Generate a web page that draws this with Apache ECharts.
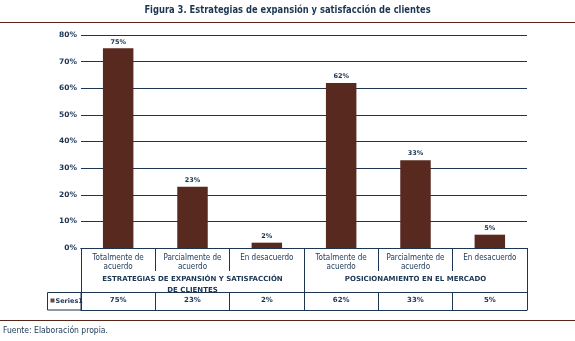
<!DOCTYPE html>
<html><head><meta charset="utf-8">
<script src="https://cdn.jsdelivr.net/npm/echarts@6/dist/echarts.min.js"></script>
<style>html,body{margin:0;padding:0;background:#fff}#c{width:575px;height:341px}</style>
</head><body><div id="c"></div>
<script>
const titleText = 'Figura 3. Estrategias de expansión y satisfacción de clientes';
const categories = ["Totalmente de\nacuerdo","Parcialmente de\nacuerdo","En desacuerdo","Totalmente de\nacuerdo","Parcialmente de\nacuerdo","En desacuerdo"];
const groups = ["ESTRATEGIAS DE EXPANSIÓN Y SATISFACCIÓN\nDE CLIENTES","POSICIONAMIENTO EN EL MERCADO"];
const series1 = [75, 23, 2, 62, 33, 5];
const yTicks = [0,10,20,30,40,50,60,70,80];
const seriesName = "Series1";

const NAVY = '#1b3553', BROWN = '#58291f';
const narrow = "'Liberation Sans Narrow','DejaVu Sans Condensed',sans-serif";
const chart = echarts.init(document.getElementById('c'), null, {renderer:'canvas'});
const lineStyle = {color: NAVY, width: 1};
const tick = (len) => ({show: true, inside: false, length: len, interval: 0, alignWithLabel: false, lineStyle});
chart.setOption({
  animation: false,
  grid: {left: 81, right: 48, top: 35, bottom: 93},
  yAxis: {type: 'value', min: yTicks[0], max: yTicks[yTicks.length-1], interval: 10,
    axisLine: {show: false}, axisTick: {show: false},
    axisLabel: {formatter: '{value}%', color: NAVY, fontSize: 7.5, fontWeight: 'bold', fontFamily: 'DejaVu Sans', margin: 4},
    splitLine: {lineStyle: {color: NAVY, width: 1}}},
  xAxis: [
    {type: 'category', data: categories, position: 'bottom', boundaryGap: true,
      axisLine: {show: true, lineStyle}, axisTick: tick(23),
      axisLabel: {interval: 0, color: NAVY, fontSize: 8, fontFamily: narrow, lineHeight: 9, margin: 5}},
    {type: 'category', data: groups, position: 'bottom', offset: 0, boundaryGap: true,
      axisLine: {show: true, lineStyle}, axisTick: tick(44),
      axisLabel: {interval: 0, color: NAVY, fontSize: 7, fontWeight: 'bold', fontFamily: 'DejaVu Sans', lineHeight: 11, margin: 26}},
    {type: 'category', data: series1.map(v => v + '%'), position: 'bottom', offset: 44, boundaryGap: true,
      axisLine: {show: true, lineStyle}, axisTick: tick(18),
      axisLabel: {interval: 0, color: NAVY, fontSize: 7, fontWeight: 'bold', fontFamily: 'DejaVu Sans', margin: 5}},
    {type: 'category', data: categories, position: 'bottom', offset: 62,
      axisLine: {show: true, lineStyle}, axisTick: {show: false}, axisLabel: {show: false}}
  ],
  series: [{name: seriesName, type: 'bar', data: series1, xAxisIndex: 0, barWidth: '41%',
    itemStyle: {color: BROWN},
    label: {show: true, position: 'top', formatter: '{c}%', color: NAVY, fontSize: 6.5, fontWeight: 'bold', fontFamily: 'DejaVu Sans', distance: 3}}],
  graphic: [
    {type: 'text', x: 287.5, y: 10, scaleX: 0.76, style: {text: titleText, fill: NAVY, font: 'bold 11px DejaVu Sans', textAlign: 'center', verticalAlign: 'middle'}},
    {type: 'line', shape: {x1: 0, y1: 22.5, x2: 575, y2: 22.5}, style: {stroke: '#5a2417', lineWidth: 1.2}},
    {type: 'line', shape: {x1: 0, y1: 320.5, x2: 575, y2: 320.5}, style: {stroke: '#5a2417', lineWidth: 1.2}},
    {type: 'rect', shape: {x: 47.5, y: 292.5, width: 33.5, height: 17.5}, style: {fill: 'none', stroke: NAVY, lineWidth: 1}},
    {type: 'rect', shape: {x: 50.5, y: 298.5, width: 4, height: 4}, style: {fill: '#5f4a45'}},
    {type: 'text', x: 55.5, y: 301, style: {text: seriesName, fill: NAVY, font: 'bold 6.5px DejaVu Sans', verticalAlign: 'middle'}},
    {type: 'text', x: 3, y: 331, style: {text: 'Fuente: Elaboración propia.', fill: NAVY, font: "8.5px 'Liberation Sans Narrow','DejaVu Sans Condensed',sans-serif", verticalAlign: 'middle'}}
  ]
});
</script></body></html>
